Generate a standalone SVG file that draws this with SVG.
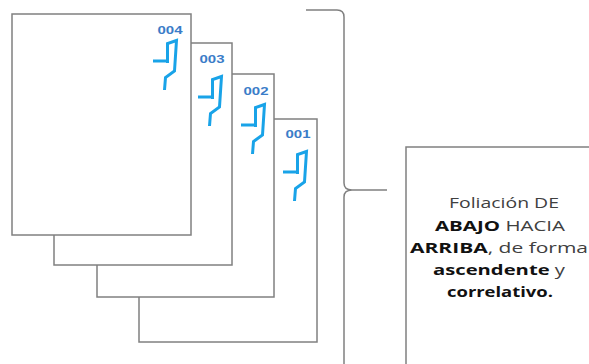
<svg xmlns="http://www.w3.org/2000/svg" xmlns:xlink="http://www.w3.org/1999/xlink" width="589" height="364" viewBox="0 0 589 364">
<style>
.page{fill:#ffffff;stroke:#808080;stroke-width:1.5}
.num{font-family:"Liberation Sans",Arial,sans-serif;font-size:10px;font-weight:bold;fill:#3a7cc8;text-anchor:middle}
.mark{fill:none;stroke:#19a3e8;stroke-width:3;stroke-linejoin:miter}
.brace{fill:none;stroke:#808080;stroke-width:1.5}
.txt{font-family:"Open Sans","Liberation Sans",sans-serif;font-size:14px;fill:#404040;text-anchor:middle}
.b{font-weight:bold;fill:#111111}
</style>
<defs>
<path id="m" class="mark" d="M0,0 H16 M14.5,2 V-17.5 L23.5,-20.5 L21.5,10 L12.5,16.5 L11.5,29"/>
</defs>
<g id="page001">
<rect class="page" x="139" y="119" width="178" height="223"/>
<text class="num" x="298" y="138" textLength="25" lengthAdjust="spacingAndGlyphs">001</text>
<use xlink:href="#m" transform="translate(283,172)"/>
</g>
<g id="page002">
<rect class="page" x="97" y="74" width="177" height="223"/>
<text class="num" x="256" y="95" textLength="25" lengthAdjust="spacingAndGlyphs">002</text>
<use xlink:href="#m" transform="translate(241,125)"/>
</g>
<g id="page003">
<rect class="page" x="54" y="43" width="178" height="222"/>
<text class="num" x="212" y="63" textLength="25" lengthAdjust="spacingAndGlyphs">003</text>
<use xlink:href="#m" transform="translate(198,97)"/>
</g>
<g id="page004">
<rect class="page" x="12" y="14" width="179" height="221"/>
<text class="num" x="170" y="34" textLength="25" lengthAdjust="spacingAndGlyphs">004</text>
<use xlink:href="#m" transform="translate(153,61)"/>
</g>
<g id="connectors">
<path class="brace" d="M306,10 H337 Q344,10 344,17 V183 Q344,190 352,190 H387 M352,190 Q344,190 344,197 V370"/>
</g>
<g id="note">
<rect class="page" x="406" y="147" width="200" height="240"/>
<text class="txt" x="504" y="208" textLength="110" lengthAdjust="spacingAndGlyphs">Foliación DE</text>
<text class="txt" x="500" y="231" textLength="130" lengthAdjust="spacingAndGlyphs"><tspan class="b">ABAJO</tspan> HACIA</text>
<text class="txt" x="499" y="253" textLength="178" lengthAdjust="spacingAndGlyphs"><tspan class="b">ARRIBA</tspan>, de forma</text>
<text class="txt" x="499" y="275" textLength="132" lengthAdjust="spacingAndGlyphs"><tspan class="b">ascendente</tspan> y</text>
<text class="txt b" x="500" y="297" textLength="106" lengthAdjust="spacingAndGlyphs">correlativo.</text>
</g>
</svg>
